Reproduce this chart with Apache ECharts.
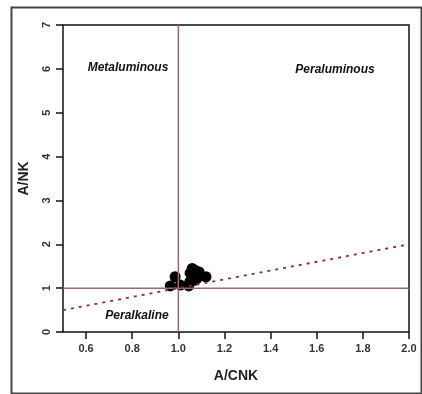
<!DOCTYPE html>
<html>
<head>
<meta charset="utf-8">
<script src="https://cdn.jsdelivr.net/npm/echarts@6/dist/echarts.min.js"></script>
<style>
  html, body { margin: 0; padding: 0; background: #fff; }
  #chart { width: 422px; height: 394px; }
</style>
</head>
<body>
<div id="chart"></div>
<script>
// samples: [A/CNK, A/NK]
const samples = [
  [0.965, 1.05], [0.986, 1.26], [1.009, 1.07], [1.045, 1.05],
  [1.051, 1.34], [1.06, 1.45], [1.07, 1.18], [1.09, 1.37],
  [1.12, 1.26], [1.05, 1.15], [1.075, 1.40], [1.08, 1.22],
  [1.06, 1.30]
];
const xTicks = [0.6, 0.8, 1.0, 1.2, 1.4, 1.6, 1.8, 2.0];
const vLine = [[1, 0], [1, 7]];
const hLine = [[0.5, 1], [2, 1]];
const unityLine = [[0.5, 0.5], [2, 2]];

const chart = echarts.init(document.getElementById("chart"));
const font = "Liberation Sans";

chart.setOption({
  animation: false,
  backgroundColor: "#fff",
  grid: {
    left: 63, right: 13, top: 25, bottom: 62,
    show: true, borderColor: "#111", borderWidth: 1.5
  },
  xAxis: {
    type: "value", min: 0.5, max: 2.0,
    name: "A/CNK", nameLocation: "middle", nameGap: 37,
    nameTextStyle: { fontFamily: font, fontWeight: "bold", fontSize: 14, color: "#222" },
    axisLine: { show: false },
    axisTick: { show: true, inside: false, length: 7, lineStyle: { color: "#111", width: 1.5 }, customValues: xTicks },
    axisLabel: {
      fontFamily: font, fontWeight: "bold", fontSize: 11, color: "#333", margin: 11,
      customValues: xTicks, formatter: v => v.toFixed(1)
    },
    splitLine: { show: false }
  },
  yAxis: {
    type: "value", min: 0, max: 7, interval: 1,
    name: "A/NK", nameLocation: "middle", nameGap: 32,
    nameTextStyle: { fontFamily: font, fontWeight: "bold", fontSize: 14, color: "#222" },
    axisLine: { show: false },
    axisTick: { show: true, inside: false, length: 7, lineStyle: { color: "#111", width: 1.5 } },
    axisLabel: { fontFamily: font, fontWeight: "bold", fontSize: 11, color: "#333", rotate: 90, margin: 11 },
    splitLine: { show: false }
  },
  series: [
    {
      type: "line", data: vLine, symbol: "none",
      lineStyle: { color: "#9c6a6a", width: 1.5 }
    },
    {
      type: "line", data: hLine, symbol: "none",
      lineStyle: { color: "#9c6a6a", width: 1.5 }
    },
    {
      type: "line", data: unityLine, symbol: "none",
      lineStyle: { color: "#8a2f3c", width: 1.8, type: [3, 5] }
    },
    {
      type: "scatter", data: samples, symbol: "circle", symbolSize: 11,
      itemStyle: { color: "#000", opacity: 1 }
    }
  ],
  graphic: [
    {
      type: "rect", left: 9, top: 5,
      shape: { width: 410, height: 386 },
      style: { fill: "none", stroke: "#444", lineWidth: 2 }
    },
    {
      type: "text", x: 128, y: 68,
      style: { text: "Metaluminous", font: "italic bold 12px Liberation Sans", fill: "#111", align: "center", verticalAlign: "middle" }
    },
    {
      type: "text", x: 335, y: 70,
      style: { text: "Peraluminous", font: "italic bold 12px Liberation Sans", fill: "#111", align: "center", verticalAlign: "middle" }
    },
    {
      type: "text", x: 137, y: 316,
      style: { text: "Peralkaline", font: "italic bold 12px Liberation Sans", fill: "#111", align: "center", verticalAlign: "middle" }
    }
  ]
});
</script>
</body>
</html>
